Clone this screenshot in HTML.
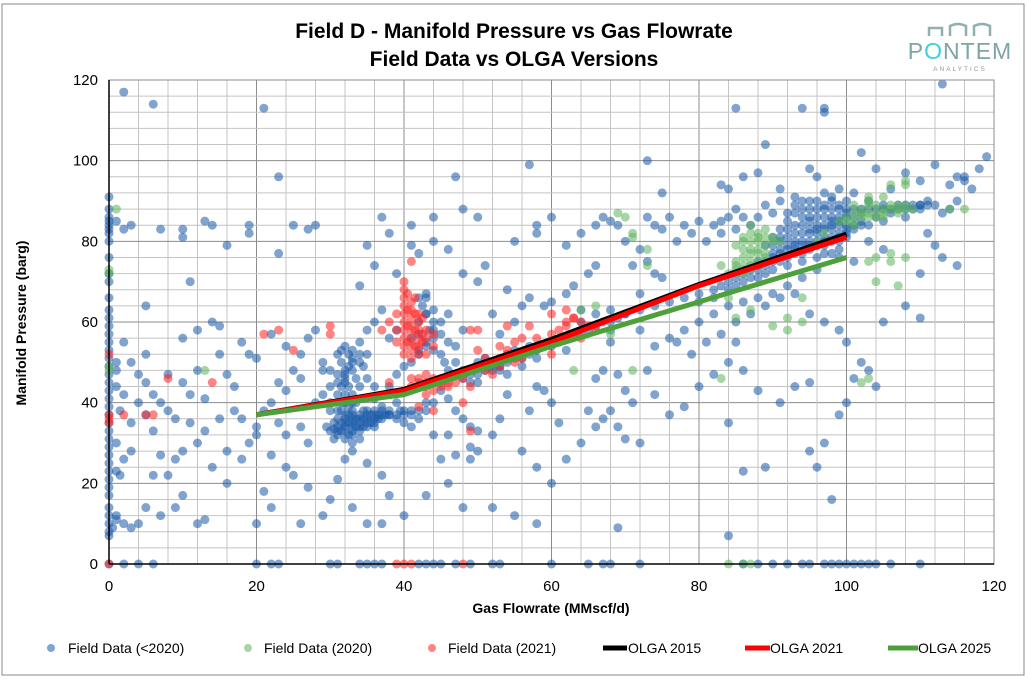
<!DOCTYPE html>
<html><head><meta charset="utf-8"><style>
body{margin:0;background:#fff;}
svg{display:block;font-family:"Liberation Sans",sans-serif;}
</style></head><body>
<svg id="chart" width="1027" height="679" xmlns="http://www.w3.org/2000/svg">
<rect x="0" y="0" width="1027" height="679" fill="#fff"/>
<rect x="2" y="4" width="1022" height="671" fill="#fff" stroke="#888" stroke-width="1"/>
<text x="514" y="38" text-anchor="middle" font-size="21" font-weight="bold">Field D - Manifold Pressure vs Gas Flowrate</text>
<text x="514" y="66" text-anchor="middle" font-size="21" font-weight="bold">Field Data vs OLGA Versions</text>
<g>
<path d="M929 36 V28 H942 V36 M950 36 V26 Q958 22 966 26 V36 M974 36 V26 Q982 22 990 26 V36" fill="none" stroke="#8fb0b0" stroke-width="2.5"/>
<text x="960" y="59" text-anchor="middle" font-size="23" fill="#7fa4a5" letter-spacing="1">P<tspan fill="#39d0e0">O</tspan>NT<tspan fill="#7fa4a5">E</tspan>M</text>
<text x="960" y="71" text-anchor="middle" font-size="6.5" fill="#8a9a9a" letter-spacing="2">ANALYTICS</text>
</g>
<g id="grid"></g>
<g id="marks"></g>
<g id="axes"></g>
<text x="551" y="613" text-anchor="middle" font-size="14" font-weight="bold">Gas Flowrate (MMscf/d)</text>
<text transform="translate(26,323) rotate(-90)" text-anchor="middle" font-size="14" font-weight="bold">Manifold Pressure (barg)</text>
<g font-size="14">
<g><circle cx="51" cy="648" r="4" fill="#2a69b0" fill-opacity="0.6"/><text x="68" y="653">Field Data (&lt;2020)</text></g>
<g><circle cx="248" cy="648" r="4" fill="#6ab86a" fill-opacity="0.6"/><text x="264" y="653">Field Data (2020)</text></g>
<g><circle cx="432" cy="648" r="4" fill="#ff3030" fill-opacity="0.6"/><text x="448" y="653">Field Data (2021)</text></g>
<g><line x1="603" y1="648" x2="627" y2="648" stroke="#000" stroke-width="5"/><text x="628" y="653">OLGA 2015</text></g>
<g><line x1="745" y1="648" x2="770" y2="648" stroke="#f00" stroke-width="5"/><text x="770" y="653">OLGA 2021</text></g>
<g><line x1="888" y1="648" x2="918" y2="648" stroke="#4ea13a" stroke-width="5"/><text x="918" y="653">OLGA 2025</text></g>
</g>
</svg>
<script>
const xTicks=[0,20,40,60,80,100,120];
const yTicks=[0,20,40,60,80,100,120];
const olgaX=[20,40,60,80,100];
const olga2015=[37,43.3,55.7,69.3,81.8];
const olga2021=[37,43,55,69,81];
const olga2025=[37,42,54,65,76];
const bluePts=[0,91,0,88,0,86,0,85,0,84,0,83,0,82,0,80,0,76,0,72,0,70,0,66,0,63,0,61,0,59,0,57,0,55,0,53,0,51,0,49,0,47,0,45,0,43,0,41,0,39,0,37,0,35,0,33,0,31,0,29,0,27,0,25,0,23,0,21,0,19,0,17,0,14,0,12,0,10,0,8,0,7,0,0,
1,85,2,83,1,44,1.5,38,1,30,2,26,1,23,1.5,22,1,12,2,10,0.5,9,1,11,1,50,2,55,1,48,
2,117,6,114,3,84,7,83,10,83,10,81,13,85,14,84,16,79,19,84,19,82,5,64,11,70,3,50,4,47,5,45,6,42,7,40,8,38,9,36,10,45,11,42,12,48,13,41,14,60,15,59,15,52,16,47,17,44,18,55,19,52,20,51,17,38,18,36,15,36,13,33,12,30,10,28,9,26,8,22,6,22,5,14,4,10,3,9,7,12,9,14,10,17,12,10,13,11,16,20,18,26,19,30,20,34,20,32,6,33,7,27,3,35,4,40,5,37,8,47,2,42,3,28,11,35,14,24,16,28,5,52,10,56,12,58,6,0,2,0,4,0,20,0,22,0,23,0,
21,113,23,96,23,77,25,84,27,83,28,84,22,57,24,54,26,52,27,56,28,58,29,48,25,48,26,46,23,45,24,43,22,40,21,38,23,35,24,32,26,34,27,30,28,40,29,42,30,38,22,27,24,24,25,22,27,19,29,12,30,16,26,10,33,14,35,10,37,10,31,21,32,26,33,28,35,25,37,22,21,18,22,14,20,10,31,52,32,54,33,53,34,50,35,52,31,47,32,45,33,48,34,44,35,46,36,44,33,42,30,48,30,44,29,50,34,55,35,58,36,60,37,63,38,56,39,58,37,86,38,82,35,79,34,69,36,74,39,72,41,79,42,77,44,86,44,80,41,84,44,63,43,66,45,60,45,57,46,55,47,54,46,62,48,58,44,53,47,50,48,48,49,45,46,48,45,43,44,40,43,38,42,36,41,34,40,35,38,37,37,39,39,40,36,41,38,44,39,47,40,49,41,50,42,52,43,55,44,58,42,60,43,62,41,56,46,41,47,38,48,36,49,34,50,33,46,32,47,27,49,29,44,32,45,26,46,20,43,17,40,12,38,17,45,0,47,0,49,0,43,0,44,0,35,0,34,0,36,0,37,0,30,0,31,0,42,0,47,96,48,88,50,86,
29.5,34,30,33,30.5,35,31,32,31,34,31,36,31.5,38,32,31,32,33,32,35,32,37,32.5,39,33,32,33,34,33,36,33,38,33.5,40,34,33,34,35,34,37,34.5,36,35,34,35,36,35,38,35.5,35,36,36,36,38,36.5,37,37,36,37,38,31.5,40,32,42,32.5,44,31,42,30,40,33,30,34,31,30.5,31,36,34,38,37,39,36,40,37,41,38,42,38,43,40,41,37,
30.5,33.5,31,33,31.5,35,31.5,33,32,34,32,36,32.5,32,32.5,35,32.5,37,33,33,33,35,33,37,33.5,34,33.5,36,34,34,34,36,34.5,34,34.5,38,35,35,35,37,35.5,37,36,35,36,37,36.5,36,37,37,37.5,37,38,38,39,37,39.5,38,40,38,31,38,32,40,33,40,31.5,44,32,47,32.5,49,33,51,
31.5,50,32,48,32.5,52,33,50,33.5,46,32,46,31,45,31.5,53,34,52,34.5,49,
42,66,43,67,42.5,64,43,62,44,60,43.5,58,42,57,44,56,43,54,42,53,45,52,45.5,50,
48,46,49,47,50,47,51,48,52,49,53,49,54,50,55,51,56,51,57,52,58,53,59,54,60,54,61,55,62,56,63,57,64,57,65,58,66,59,67,60,68,60,69,61,52,48,53,48,50,45,55,53,57,54,50,50,49,48,51,51,54,47,56,49,58,51,62,53,64,60,66,62,68,63,70,62,68,58,
52,62,53,57,55,60,56,64,57,66,59,64,60,65,62,67,63,69,54,68,50,70,51,74,48,72,46,78,55,80,58,84,58,82,60,86,62,79,64,82,66,84,67,86,68,85,69,84,70,80,71,74,72,78,73,75,74,72,75,71,72,67,66,74,65,72,64,63,68,55,67,48,66,46,69,47,70,43,71,40,68,38,67,36,66,34,69,34,70,31,72,30,60,40,59,43,58,44,57,38,54,42,53,36,52,32,50,28,49,26,56,28,58,24,60,20,62,26,64,30,65,38,61,35,55,12,58,10,52,14,48,14,69,9,57,99,73,100,75,92,52,0,53,0,60,0,65,0,67,0,68,0,72,0,
70,62,72,63,74,64,76,65,78,66,80,67,82,68,83,69,84,70,85,71,86,72,87,73,88,73,89,74,90,75,91,75,92,76,93,77,94,77,95,78,96,79,97,79,98,80,99,80,100,81,85,69,86,70,87,71,88,71,89,72,90,73,92,74,94,75,96,76,98,77,80,65,82,66,84,68,88,75,90,77,92,79,94,80,96,82,98,83,100,84,102,85,104,86,106,87,108,88,110,89,112,89,89,79,90,81,91,83,92,85,93,87,94,88,95,86,96,84,97,86,98,88,99,85,100,87,101,86,102,88,93,82,94,84,95,83,97,81,99,82,91,78,93,79,95,80,97,77,99,78,101,83,103,84,105,85,90,87,89,89,91,90,88,86,87,84,86,86,85,88,84,86,83,85,82,84,80,85,78,84,76,86,74,84,73,86,75,83,77,80,79,82,81,80,83,82,85,83,96,90,97,92,98,91,99,93,100,90,100,86,101,92,103,90,105,89,107,88,108,86,109,89,110,88,111,90,113,87,114,88,115,90,116,95,117,93,118,98,119,101,116,96,115,96,114,94,112,99,110,95,108,97,106,93,104,98,102,102,96,96,95,98,93,91,91,93,88,97,86,96,84,93,83,94,89,104,94,113,97,113,97,112,85,113,113,119,111,82,113,76,115,74,112,79,110,72,105,78,103,80,101,75,99,76,96,73,94,71,92,69,90,67,88,66,86,65,84,64,82,62,80,60,78,58,76,56,74,54,72,58,77,55,79,52,81,55,83,57,85,60,87,62,89,64,91,66,93,67,95,62,97,60,99,58,100,55,102,50,103,48,101,46,104,44,99,37,97,30,95,45,93,44,91,40,88,43,86,48,85,55,84,50,82,47,80,44,78,39,76,37,74,42,73,48,84,35,86,23,89,24,96,24,95,28,98,16,100,40,105,60,110,61,108,64,84,7,92,0,94,0,95,0,97,0,98,0,99,0,100,0,101,0,102,0,103,0,104,0,106,0,110,0,86,0,88,0,90,0,
88,74,89,75,90,76,91,77,92,78,93,78,94,79,95,79,96,80,97,80,98,81,99,81,91,80,92,81,93,80,94,82,95,82,96,83,97,83,98,84,99,84,93,84,94,86,95,85,96,86,97,84,98,86,99,86,100,83,98,85,96,88,97,88,95,88,94,90,92,83,90,79,91,81,92,87,93,89,95,90,97,89,99,88,100,88,101,88,102,87,103,88,104,88,105,88,106,88,107,89,108,89,109,88,110,89,111,89,100,82,101,84,102,84,99,89,98,90];
const greenPts=[1,88,0,73,0,72,0,49,0,48,13,48,83,46,85,61,87,63,84,66,86,74,87,75,88,75,89,76,85,73,84,72,86,72,87,74,86,80,87,82,88,80,89,79,87,78,86,78,88,82,89,83,90,81,91,80,87,84,85,79,88,77,96,80,97,82,99,85,100,86,101,87,102,88,103,87,104,89,105,88,106,88,107,89,108,89,102,86,104,86,101,84,103,90,105,91,107,87,109,88,108,94,108,95,106,94,103,91,106,75,108,76,104,70,107,69,92,61,94,66,102,45,103,46,73,74,70,86,69,87,71,82,71,81,73,78,66,64,63,48,61,55,64,63,68,57,71,48,92,58,94,60,90,59,114,88,116,88,83,74,85,74,86,0,84,0,87,0,103,75,104,76,106,77,
85,72,86,73,87,73,88,74,85,75,86,76,87,77,88,78,86,81,87,80,88,81,89,81,90,80,89,77,100,85,101,85,102,87,103,86,104,87,105,87,106,89,107,88,108,88,105,86,103,89,101,89];
const redPts=[0,37,0,36,0,35,0,0,2,37,8,46,14,45,21,57,23,58,25,53,30,57,30,59,38,45,41,75,40,70,40,68,40,66,40,64,40,62,40,60,40,58,40,56,41,65,41,63,41,61,41,59,41,57,41,55,42,62,42,60,42,58,42,56,42,54,39,62,39,58,39,55,40,54,41,53,42,52,43,56,43,58,38,60,37,58,44,57,44,54,43,52,42,44,43,45,44,46,45,45,46,44,47,45,48,46,42,46,43,47,41,44,44,43,45,46,43,42,42,39,48,40,49,44,51,48,52,47,53,49,53,51,54,52,55,50,56,51,54,53,53,54,55,55,58,56,60,57,61,58,62,60,63,61,62,59,64,60,65,59,66,58,64,56,63,57,60,52,56,56,57,59,54,59,50,53,51,51,49,58,50,58,60,62,62,63,63,61,44,38,49,33,41,0,40,0,39,0,48,0,0,52,5,37,6,37,
40.5,67,40.5,63,40.5,59,40.5,55,41.5,66,41.5,62,41.5,58,41.5,54,42.5,61,42.5,57,42.5,55,40,52,41,51,43,44,44,45,45,44,46,45,42,45,41,46];

const NS='http://www.w3.org/2000/svg';
const X0=109,X1=994,Y0=564,Y1=80;
function sx(v){return X0+(v/120)*(X1-X0);}
function sy(v){return Y0-(v/120)*(Y0-Y1);}
function mk(tag,attrs,parent){const e=document.createElementNS(NS,tag);for(const k in attrs)e.setAttribute(k,attrs[k]);parent.appendChild(e);return e;}
const grid=document.getElementById('grid'),marks=document.getElementById('marks'),axes=document.getElementById('axes');
for(let v=0;v<=120;v+=4){
  const major=v%20===0;
  const gx=mk('line',{x1:sx(v),x2:sx(v),y1:Y1,y2:Y0,stroke:major?'#8c8c8c':'#c4c4c4','stroke-width':1},grid);
  
  
  const gy=mk('line',{x1:X0,x2:X1,y1:sy(v),y2:sy(v),stroke:major?'#8c8c8c':'#c4c4c4','stroke-width':1},grid);
  
  
}
function drawPts(arr,color,name){
  for(let i=0;i<arr.length;i+=2){
    const c=mk('circle',{cx:sx(arr[i]),cy:sy(arr[i+1]),r:4.5,fill:color,'fill-opacity':0.55},marks);
    
    
  }
}
drawPts(bluePts,'#1a5aa8','point-field-pre2020');
drawPts(greenPts,'#5db35d','point-field-2020');
drawPts(redPts,'#ff2020','point-field-2021');
function drawLine(ys,color,name){
  const p=mk('polyline',{points:olgaX.map((x,i)=>sx(x)+','+sy(ys[i])).join(' '),fill:'none',stroke:color,'stroke-width':5,'stroke-linejoin':'round'},marks);
  
  
}
drawLine(olga2015,'#000','line-olga-2015');
drawLine(olga2021,'#ff0000','line-olga-2021');
drawLine(olga2025,'#4ea13a','line-olga-2025');
const frame=mk('rect',{x:X0,y:Y1,width:X1-X0,height:Y0-Y1,fill:'none',stroke:'#8c8c8c'},axes);


const ax=mk('line',{x1:X0,x2:X1,y1:Y0,y2:Y0,stroke:'#000','stroke-width':1.5},axes);


const ay=mk('line',{x1:X0,x2:X0,y1:Y1,y2:Y0,stroke:'#000','stroke-width':1.5},axes);


xTicks.forEach(v=>{
  const t=mk('text',{x:sx(v),y:591,'text-anchor':'middle','font-size':15},axes);
  t.textContent=v;
  
  
});
yTicks.forEach(v=>{
  const t=mk('text',{x:98,y:sy(v)+5,'text-anchor':'end','font-size':15},axes);
  t.textContent=v;
  
  
});
</script>
</body></html>
